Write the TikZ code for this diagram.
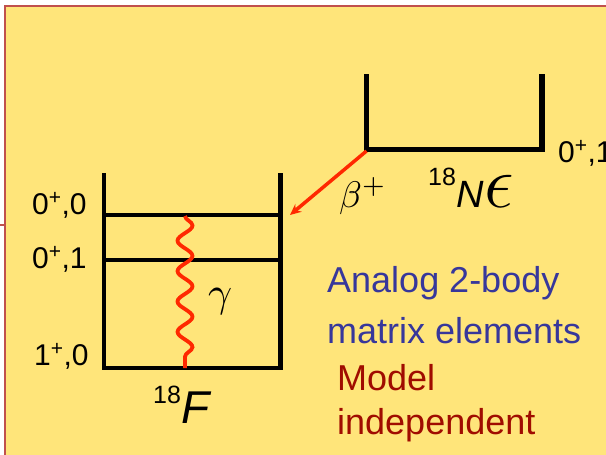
\documentclass[tikz,border=0pt]{standalone}
\usepackage{graphicx}
\usepackage{fontspec}
\setmainfont{Liberation Sans}
\usetikzlibrary{positioning, arrows.meta, decorations.pathmorphing}
\definecolor{slideyellow}{RGB}{255,229,122}
\definecolor{slideframe}{RGB}{192,80,77}
\definecolor{noteblue}{RGB}{55,55,155}
\definecolor{notered}{RGB}{160,12,0}
\definecolor{decayred}{RGB}{255,40,0}
\tikzset{
  well/.style={line width=4.5pt},
  level/.style={line width=3.5pt},
  spin/.style={font=\fontsize{30}{32}\selectfont, inner sep=0pt, anchor=base west},
  note/.style={font=\fontsize{36}{40}\selectfont, inner sep=0pt, anchor=base west}
}

\begin{document}
\begin{tikzpicture}[x=1pt, y=-1pt]
                \useasboundingbox (0,0) rectangle (606,455);
                \fill[white] (0,0) rectangle (606,455);
                \fill[slideyellow] (5,6) rectangle (606,455);
                \draw[slideframe, line width=2pt] (5,455) -- (5,6) -- (606,6);
                \draw[slideframe, line width=1.5pt] (0,225) -- (5,225);

                % 18F well with its levels
                \draw[well] (104,173) -- (104,368) -- (280.5,368) -- (280.5,173);
                \draw[level] (104,215) -- (280.5,215);
                \draw[level] (104,260) -- (280.5,260);
                \node[spin] (F00) at (32,214) {0\textsuperscript{+},0};
                \node[spin] (F01) at (32,268) {0\textsuperscript{+},1};
                \node[spin] (F10) at (34,365) {1\textsuperscript{+},0};
                \node[anchor=base west, inner sep=0] (F-name) at (153,423) {\raisebox{20pt}{\fontsize{25}{25}\selectfont 18}\fontsize{46}{46}\selectfont\itshape F};

                % 18Ne well
                \draw[line width=5.5pt] (366.5,74) -- (366.5,149.5) -- (542,149.5) -- (542,74);
                \node[spin] (Ne01) at (558,162) {0\textsuperscript{+},1};
                \node[anchor=base west, inner sep=0] (Ne-name) at (428,207) {\raisebox{22pt}{\fontsize{25}{25}\selectfont 18}\fontsize{38}{38}\selectfont\itshape N\kern1pt\scalebox{3}{$\epsilon$}};

                % beta decay and gamma transition
                \coordinate (Ne-corner) at (366.5,151);
                \coordinate (F-entry) at (290,215);
                \draw[decayred, line width=3.5pt, -{Stealth[length=11pt, width=10pt]}] (Ne-corner) -- (F-entry);
                \node[anchor=base west, inner sep=0] (beta) at (339,207) {\scalebox{3.7}{$\beta^+$}};

                \coordinate (g-top) at (185,216);
                \coordinate (g-bot) at (185,368);
                \draw[decayred, line width=3.8pt, decorate, decoration={snake, segment length=30.4pt, amplitude=7.5pt}] (g-top) -- (g-bot);
                \node[anchor=base west, inner sep=0] (gamma) at (208,306) {\scalebox{4.2}{$\gamma$}};

                \node[note, text=noteblue] (analog) at (327,292) {Analog 2-body};
                \node[note, text=noteblue] (matrix) at (327,343) {matrix elements};
                \node[note, text=notered] (model) at (337,390) {Model};
                \node[note, text=notered] (indep) at (337,434) {independent};
            \end{tikzpicture}
\end{document}
